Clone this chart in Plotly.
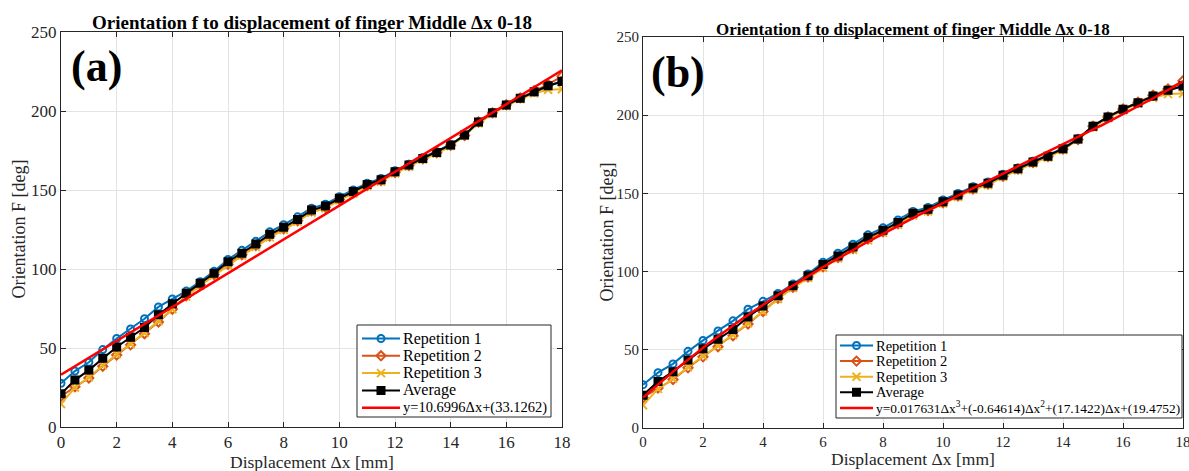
import numpy as np
import plotly.graph_objects as go

# Displacement samples [mm]
dx = [0, 0.5, 1, 1.5, 2, 2.5, 3, 3.5, 4, 4.5, 5, 5.5, 6, 6.5, 7, 7.5, 8, 8.5, 9,
      9.5, 10, 10.5, 11, 11.5, 12, 12.5, 13, 13.5, 14, 14.5, 15, 15.5, 16, 16.5,
      17, 17.5, 18]

# Orientation F [deg] for each repetition
rep1 = [27.7, 35.4, 41.0, 49.0, 56.0, 62.0, 68.5, 76.0, 81.0, 86.0, 92.0, 98.5,
        106.0, 111.8, 117.5, 123.5, 128.0, 133.0, 138.5, 141.0, 145.8, 150.0,
        154.3, 157.3, 162.2, 166.3, 170.5, 174.2, 178.8, 185.0, 193.2, 199.0,
        203.8, 208.0, 212.0, 215.8, 218.8]
rep2 = [19.5, 25.5, 31.0, 38.5, 45.5, 52.0, 59.0, 66.5, 74.5, 83.0, 90.0, 96.5,
        103.0, 109.0, 114.8, 120.8, 125.5, 130.5, 136.8, 139.0, 144.0, 148.3,
        152.8, 156.0, 161.0, 165.5, 169.8, 173.5, 178.3, 184.5, 193.0, 198.8,
        204.0, 208.3, 212.8, 216.8, 222.0]
rep3 = [14.6, 25.0, 31.5, 39.0, 46.0, 52.5, 59.5, 67.0, 74.5, 82.5, 89.5, 96.0,
        102.5, 108.5, 114.0, 120.0, 124.8, 130.0, 135.8, 138.5, 143.5, 147.8,
        152.3, 155.3, 160.6, 164.8, 169.2, 173.0, 177.8, 184.3, 192.2, 198.2,
        203.2, 207.5, 211.2, 213.5, 213.8]
average = [21.0, 29.7, 36.0, 43.5, 50.6, 56.8, 63.0, 71.0, 78.0, 84.6, 91.0, 97.3,
           104.6, 110.0, 115.8, 122.0, 126.4, 131.4, 137.3, 139.8, 144.7, 149.0,
           153.5, 156.5, 161.6, 165.8, 170.0, 173.8, 178.5, 184.8, 193.0, 198.9,
           203.8, 208.0, 212.2, 216.0, 218.6]

# Fitted polynomial coefficients (highest power first)
lin_coef = [10.6996, 33.1262]
cub_coef = [0.017631, -0.64614, 17.1422, 19.4752]

x_ticks = [0, 2, 4, 6, 8, 10, 12, 14, 16, 18]
y_ticks = [0, 50, 100, 150, 200, 250]

title_text = "Orientation f to displacement of finger Middle \u0394x 0-18"
lin_label = "y=10.6996\u0394x+(33.1262)"
cub_label = ("y=0.017631\u0394x<sup>3</sup>+(-0.64614)\u0394x<sup>2</sup>"
             "+(17.1422)\u0394x+(19.4752)")

FONT = "Liberation Serif"
DARK = "#262626"
GRID = "#e3e3e3"
RED = "#FF0000"

W, H = 1189, 471

# Pixel geometry of the two panels and their legends
panels = {
    "a": dict(x0=61, x1=562, ytop=32, ybot=427, tick=17, standoff=0,
              title_size=19, title_y=22, lab_x=70, lab_y=41,
              xtitle_y=462, xtitle_size=17.5, ytitle_x=18,
              leg=dict(x0=357, x1=551, y0=325, y1=417, row0=338.5, dy=17.3,
                       lx0=362, lx1=400, tx=402, fs=16, fs_fit=14.5),
              fit_coef=lin_coef, fit_label=lin_label),
    "b": dict(x0=643, x1=1183, ytop=37, ybot=428, tick=15, standoff=0,
              title_size=17, title_y=29, lab_x=650, lab_y=47,
              xtitle_y=459, xtitle_size=17.5, ytitle_x=606,
              leg=dict(x0=836, x1=1182, y0=335, y1=418, row0=345.5, dy=15.6,
                       lx0=840, lx1=873, tx=875, fs=14.5, fs_fit=13.4),
              fit_coef=cub_coef, fit_label=cub_label),
}

series = [
    ("Repetition 1", rep1, "#0072BD", "circle-open", 7),
    ("Repetition 2", rep2, "#D95319", "diamond-open", 7),
    ("Repetition 3", rep3, "#EDB120", "x-thin-open", 8),
    ("Average", average, "#000000", "square", 7),
]

xfit = np.linspace(0, 18, 200)

fig = go.Figure()
annotations = []
layout = dict(
    width=W, height=H,
    margin=dict(l=0, r=0, t=0, b=0, pad=0, autoexpand=False),
    paper_bgcolor="white", plot_bgcolor="rgba(0,0,0,0)",
    font=dict(family=FONT, color=DARK), showlegend=False,
)

# Data panels
for i, key in enumerate(["a", "b"]):
    p = panels[key]
    sfx = "" if i == 0 else "2"
    for name, vals, col, sym, sz in series:
        fig.add_trace(go.Scatter(
            x=dx, y=vals, name=name, mode="lines+markers",
            line=dict(color=col, width=2),
            marker=dict(symbol=sym, size=sz, color=col,
                        line=dict(color=col, width=2)),
            xaxis="x" + sfx, yaxis="y" + sfx))
    fig.add_trace(go.Scatter(
        x=xfit, y=np.polyval(p["fit_coef"], xfit), mode="lines",
        name=p["fit_label"], line=dict(color=RED, width=2.5),
        xaxis="x" + sfx, yaxis="y" + sfx))

    xd = [p["x0"] / W, p["x1"] / W]
    yd = [(H - p["ybot"]) / H, (H - p["ytop"]) / H]
    common = dict(showline=True, linecolor=DARK, linewidth=1, mirror="ticks",
                  ticks="inside", ticklen=5, tickcolor=DARK,
                  showgrid=True, gridcolor=GRID, gridwidth=1, zeroline=False,
                  automargin=False, ticklabeloverflow="allow",
                  tickfont=dict(family=FONT, size=p["tick"], color=DARK))
    layout["xaxis" + sfx] = dict(common, domain=xd, range=[0, 18],
                                 tickvals=x_ticks, anchor="y" + sfx,
                                 ticklabelstandoff=p["standoff"])
    layout["yaxis" + sfx] = dict(common, domain=yd, range=[0, 250],
                                 tickvals=y_ticks, anchor="x" + sfx)

    cx = (p["x0"] + p["x1"]) / 2
    annotations += [
        dict(text="<b>" + title_text + "</b>", x=cx, y=p["title_y"],
             xanchor="center", yanchor="middle",
             font=dict(family=FONT, size=p["title_size"], color="black")),
        dict(text="<b>(" + key + ")</b>", x=p["lab_x"], y=p["lab_y"],
             xanchor="left", yanchor="top",
             font=dict(family=FONT, size=44, color="black")),
        dict(text="Displacement \u0394x [mm]", x=cx, y=p["xtitle_y"],
             xanchor="center", yanchor="middle",
             font=dict(family=FONT, size=p["xtitle_size"], color=DARK)),
        dict(text="Orientation F [deg]", x=p["ytitle_x"],
             y=(p["ytop"] + p["ybot"]) / 2, xanchor="center", yanchor="middle",
             textangle=-90, font=dict(family=FONT, size=18, color=DARK)),
    ]

# Legend boxes drawn on a full-figure overlay axis measured in pixels
for key in ["a", "b"]:
    p = panels[key]
    L = p["leg"]
    fig.add_trace(go.Scatter(
        x=[L["x0"], L["x1"], L["x1"], L["x0"], L["x0"]],
        y=[L["y0"], L["y0"], L["y1"], L["y1"], L["y0"]],
        mode="lines", fill="toself", fillcolor="white",
        line=dict(color=DARK, width=1), hoverinfo="skip",
        xaxis="x3", yaxis="y3"))
    entries = [(n, c, s, z) for n, _, c, s, z in series] + \
              [(p["fit_label"], RED, None, 0)]
    for j, (name, col, sym, sz) in enumerate(entries):
        ry = L["row0"] + j * L["dy"]
        fig.add_trace(go.Scatter(
            x=[L["lx0"], L["lx1"]], y=[ry, ry], mode="lines",
            line=dict(color=col, width=2.5 if sym is None else 2),
            hoverinfo="skip", xaxis="x3", yaxis="y3"))
        if sym is not None:
            fig.add_trace(go.Scatter(
                x=[(L["lx0"] + L["lx1"]) / 2], y=[ry], mode="markers",
                marker=dict(symbol=sym, size=sz, color=col,
                            line=dict(color=col, width=2)),
                hoverinfo="skip", xaxis="x3", yaxis="y3"))
        annotations.append(dict(
            text=name, x=L["tx"], y=ry, xanchor="left", yanchor="middle",
            font=dict(family=FONT, size=L["fs"] if sym is not None else L["fs_fit"],
                      color="black")))

layout["xaxis3"] = dict(domain=[0, 1], range=[0, W], visible=False,
                        anchor="y3", fixedrange=True, automargin=False)
layout["yaxis3"] = dict(domain=[0, 1], range=[H, 0], visible=False,
                        anchor="x3", fixedrange=True, automargin=False)

for a in annotations:
    a.update(xref="x3", yref="y3", showarrow=False, borderpad=0)
layout["annotations"] = annotations

fig.update_layout(**layout)
fig.write_html("out.html")
